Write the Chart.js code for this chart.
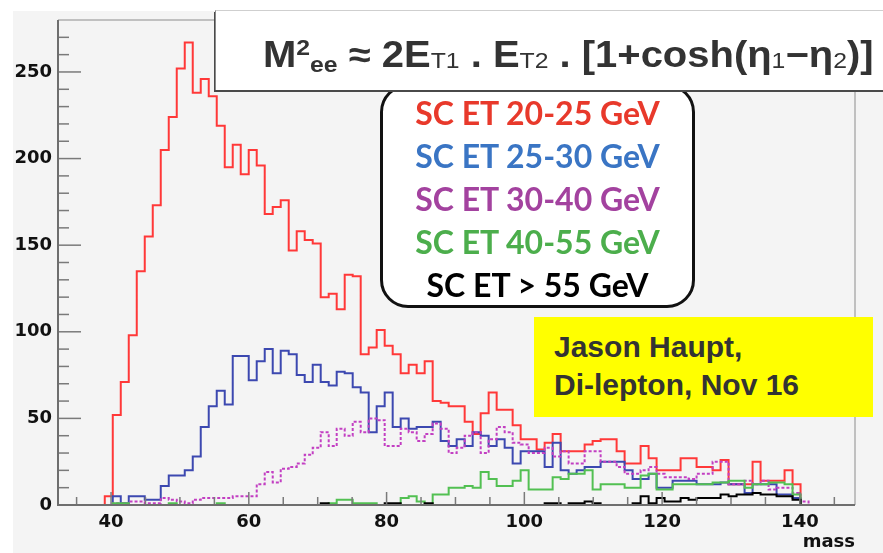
<!DOCTYPE html>
<html>
<head>
<meta charset="utf-8">
<script src="https://cdn.jsdelivr.net/npm/chart.js@4/dist/chart.umd.min.js"></script>
<style>
  html, body { margin: 0; padding: 0; background: #fff; overflow: hidden; }
  #wrap { position: relative; width: 883px; height: 553px; overflow: hidden; }
  #pad { position: absolute; left: 13px; top: 11px; right: 0; bottom: 0; background: #f4f4f4; }
  #plot { position: absolute; left: 0; top: 0; }
  #formulaBox {
    position: absolute; left: 215px; top: 10px; width: 720px; height: 79px;
    background: #fff; border-left: 1px solid #8a8a8a; border-top: 1px solid #cfcfcf;
    box-shadow: -1px 2px 0 #4a4a4a; z-index: 3;
  }
  #formula {
    position: absolute; left: 263px; top: 28px; white-space: nowrap; z-index: 4;
    font: bold 36px "Liberation Sans", Arial, sans-serif; color: #333; line-height: 40px;
    transform: scaleX(1.11); transform-origin: 0 0;
  }
  #formula .sup { font-size: 62%; vertical-align: 0.55em; }
  #formula .sub { font-size: 62%; vertical-align: -0.2em; }
  #formula .tsub { font-size: 62%; vertical-align: -0.05em; font-weight: normal; }
  #legendBox {
    position: absolute; left: 380px; top: 84px; width: 315px; height: 224px; box-sizing: border-box;
    background: #fff; border: 3px solid #111; border-radius: 28px; z-index: 2;
    font: bold 32px Lato, "Open Sans", sans-serif; text-align: center; line-height: 43px; padding-top: 4px;
  }
  #noteBox {
    position: absolute; left: 534px; top: 317px; width: 339px; height: 100px; box-sizing: border-box;
    background: #ffff00; z-index: 2; padding: 11px 0 0 20px;
    font: bold 30px "Liberation Sans", Arial, sans-serif; color: #333; line-height: 38px;
  }
</style>
</head>
<body>
<div id="wrap">
  <div id="pad"></div>
  <canvas id="plot" width="883" height="553"></canvas>
  <div id="formulaBox"></div>
  <div id="formula">M<span class="sup">2</span><span class="sub">ee</span> ≈ 2E<span class="tsub">T1</span> . E<span class="tsub">T2</span> . [1+cosh(η<span class="tsub">1</span>−η<span class="tsub">2</span>)]</div>
  <div id="legendBox"></div>
  <div id="noteBox">Jason Haupt,<br>Di-lepton, Nov 16</div>
</div>
<script>
// histogram bins (GeV): first bin edge and width
const binStart = 39.09;
const binWidth = 1.161;

const xMin = 32.3;
const xMax = 148;
const yMax = 280;

const xTicks = [40, 60, 80, 100, 120, 140];
const yTicks = [0, 50, 100, 150, 200, 250];

const seriesNames = ["SC ET 20-25 GeV", "SC ET 25-30 GeV", "SC ET 30-40 GeV", "SC ET 40-55 GeV", "SC ET > 55 GeV"];
const legendColors = ["#e8392b", "#3a75c4", "#a3429f", "#4cae4c", "#000000"];

const red = [5, 52, 71, 98, 135, 155, 173, 205, 224, 252,
  267, 238, 246, 236, 219, 195, 208, 191, 205, 196,
  168, 172, 176, 147, 158, 153, 151, 120, 122, 113,
  133, 132, 87, 91, 101, 92, 87, 76, 81, 76,
  83, 60, 59, 57, 57, 48, 41, 53, 65, 55,
  55, 46, 38, 38, 32, 36, 41, 31, 31, 31,
  35, 37, 38, 38, 31, 24, 24, 34, 27, 20,
  20, 20, 27, 27, 22, 22, 20, 26, 12, 12,
  12, 25, 14, 14, 14, 20, 12, 0];

const blue = [0, 5, 1, 5, 5, 3, 3, 11, 17, 17,
  20, 28, 45, 57, 66, 58, 86, 86, 72, 83,
  90, 76, 89, 87, 75, 71, 81, 71, 69, 77,
  76, 68, 65, 42, 57, 65, 45, 50, 44, 45,
  45, 48, 37, 34, 38, 34, 42, 40, 34, 38,
  33, 24, 31, 31, 31, 22, 36, 20, 18, 20,
  22, 22, 25, 25, 25, 20, 15, 15, 18, 10,
  10, 14, 14, 14, 12, 12, 12, 13, 12, 12,
  7, 12, 12, 12, 6, 6, 4, 0];

const pink = [0, 1, 1, 2, 2, 1, 1, 4, 3, 2,
  1, 3, 4, 4, 4, 4, 5, 5, 5, 12,
  19, 13, 21, 22, 24, 29, 33, 42, 34, 44,
  40, 48, 42, 50, 49, 34, 34, 44, 42, 37,
  41, 47, 44, 30, 33, 40, 42, 30, 38, 45,
  42, 36, 35, 30, 30, 33, 28, 31, 24, 24,
  31, 31, 25, 25, 22, 18, 18, 20, 22, 18,
  16, 16, 16, 15, 18, 18, 25, 25, 12, 12,
  14, 12, 14, 9, 10, 10, 7, 2];

const green = [0, 1, 1, 0, 0, 0, 0, 0, 1, 0,
  0, 0, 0, 0, 1, 0, 0, 0, 0, 0,
  0, 0, 0, 0, 0, 0, 0, 0, 1, 3,
  3, 1, 1, 1, 0, 0, 0, 4, 5, 2,
  0, 6, 6, 10, 10, 11, 10, 19, 15, 11,
  11, 14, 20, 9, 9, 9, 16, 15, 18, 18,
  20, 9, 12, 12, 12, 10, 10, 17, 18, 9,
  9, 12, 12, 12, 12, 12, 13, 13, 14, 14,
  10, 12, 12, 13, 13, 12, 6, 0];

const black = [0, 0, 0, 0, 0, 0, 0, 0, 0, 0,
  0, 0, 0, 0, 0, 0, 0, 0, 0, 0,
  0, 0, 0, 0, 0, 0, 0, 1, 0, 0,
  0, 0, 0, 0, 0, 1, 1, 0, 0, 0,
  1, 0, 0, 0, 0, 0, 0, 0, 0, 0,
  0, 0, 0, 0, 0, 1, 1, 0, 1, 1,
  2, 1, 0, 0, 0, 0, 1, 5, 1, 4,
  2, 2, 4, 3, 4, 4, 4, 6, 5, 6,
  6, 7, 6, 6, 5, 5, 3, 0];

// legend text in the rounded box
document.querySelector("#legendBox").innerHTML = seriesNames
  .map((name, i) => `<div style="color:${legendColors[i]}">${name.replace(">", "&gt;")}</div>`)
  .join("");

// with stepped "before", bin i is drawn flat from its left edge to the next point
function histPoints(values, fullRange) {
  const pts = [{ x: fullRange ? xMin : binStart, y: 0 }];
  values.forEach((v, i) => pts.push({ x: binStart + i * binWidth, y: v }));
  pts.push({ x: binStart + values.length * binWidth, y: 0 });
  if (fullRange) pts.push({ x: xMax, y: 0 });
  return pts;
}

function hist(label, values, color, order, dash) {
  return {
    label, data: histPoints(values, !!dash), borderColor: color, borderWidth: 2,
    borderDash: dash || [], stepped: "before", pointRadius: 0, fill: false, order,
  };
}

// ROOT-style frame with inward ticks
const framePlugin = {
  id: "frame",
  afterDatasetsDraw(chart) {
    const { ctx, chartArea: a, scales: { x, y } } = chart;
    ctx.save();
    ctx.strokeStyle = "#7a7a7a";
    ctx.lineWidth = 1.5;
    for (let v = 35; v < xMax; v += 5) {
      const px = x.getPixelForValue(v);
      const len = xTicks.includes(v) ? 13 : 8;
      ctx.beginPath(); ctx.moveTo(px, a.bottom); ctx.lineTo(px, a.bottom - len); ctx.stroke();
    }
    for (let v = 0; v < yMax; v += 10) {
      const py = y.getPixelForValue(v);
      const len = yTicks.includes(v) ? 23 : 11;
      ctx.beginPath(); ctx.moveTo(a.left, py); ctx.lineTo(a.left + len, py); ctx.stroke();
    }
    ctx.lineWidth = 1;
    ctx.strokeStyle = "#8c8c8c";
    ctx.beginPath();
    ctx.moveTo(a.left, a.top); ctx.lineTo(a.right, a.top); ctx.lineTo(a.right, a.bottom);
    ctx.stroke();
    ctx.lineWidth = 2;
    ctx.strokeStyle = "#6e6e6e";
    ctx.beginPath();
    ctx.moveTo(a.left, a.top); ctx.lineTo(a.left, a.bottom); ctx.lineTo(a.right, a.bottom);
    ctx.stroke();
    ctx.restore();
  },
};

const tickFont = { family: "'DejaVu Sans', sans-serif", size: 18, weight: "bold" };

new Chart(document.querySelector("#plot"), {
  type: "line",
  data: {
    datasets: [
      hist(seriesNames[0], red, "#ff3838", 5),
      hist(seriesNames[1], blue, "#3c48b0", 4),
      hist(seriesNames[2], pink, "#c23fc2", 3, [3, 2]),
      hist(seriesNames[3], green, "#52c052", 2),
      hist(seriesNames[4], black, "#000000", 1),
    ],
  },
  options: {
    responsive: false,
    devicePixelRatio: 1,
    animation: false,
    layout: { padding: { top: 20, right: 28, left: 0, bottom: 0 } },
    plugins: { legend: { display: false }, tooltip: { enabled: false } },
    scales: {
      x: {
        type: "linear", min: xMin, max: xMax,
        grid: { display: false, drawTicks: false }, border: { display: false },
        afterBuildTicks: (s) => { s.ticks = xTicks.map((v) => ({ value: v })); },
        afterFit: (s) => { s.height = 48; },
        ticks: { font: tickFont, color: "#111", padding: 7, maxRotation: 0, autoSkip: false },
        title: { display: true, text: "mass", align: "end", color: "#111", font: tickFont, padding: { top: 0, bottom: 0 } },
      },
      y: {
        min: 0, max: yMax,
        grid: { display: false, drawTicks: false }, border: { display: false },
        afterBuildTicks: (s) => { s.ticks = yTicks.map((v) => ({ value: v })); },
        afterFit: (s) => { s.width = 58; },
        ticks: { font: tickFont, color: "#111", padding: 6 },
      },
    },
  },
  plugins: [framePlugin],
});
</script>
</body>
</html>
